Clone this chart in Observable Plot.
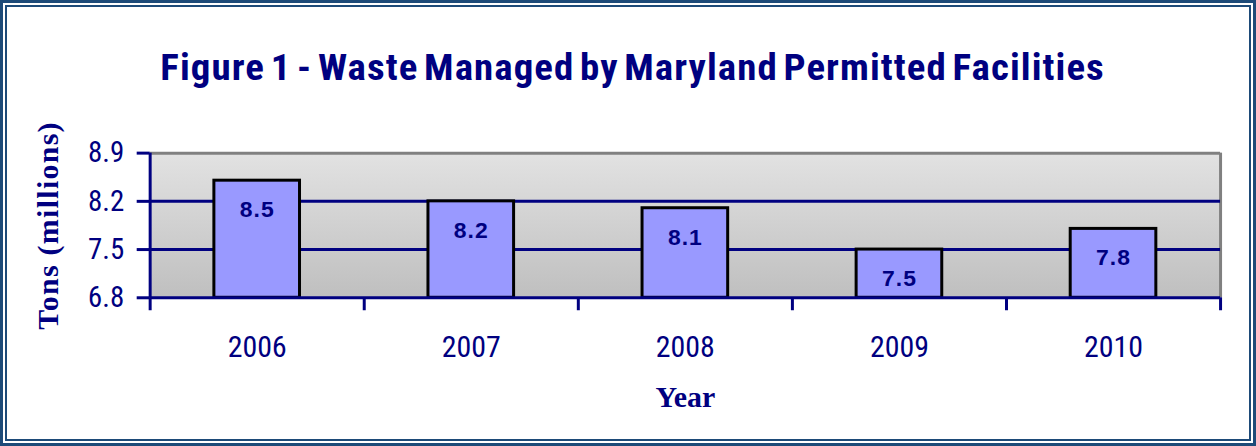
<!DOCTYPE html>
<html>
<head>
<meta charset="utf-8">
<script src="https://cdn.jsdelivr.net/npm/d3@7"></script>
<script src="https://cdn.jsdelivr.net/npm/@observablehq/plot@0.6"></script>
<style>
  html, body { margin: 0; padding: 0; background: #fff; }
  #frame {
    position: relative; width: 1256px; height: 446px; box-sizing: border-box;
    border: 3px solid #1d4a78; background: #fff;
  }
  #inner {
    position: absolute; left: 2px; top: 2px; right: 2px; bottom: 2px;
    border: 2px solid #1d4a78;
  }
  #title {
    position: absolute; left: 5px; top: 47px; width: 1250px; text-align: center;
    font-family: "Roboto Condensed", "Liberation Sans Narrow", sans-serif;
    font-weight: bold; font-size: 36px; color: #000080; letter-spacing: 1px;
    word-spacing: -4px; line-height: 1; transform: scaleX(1.08); transform-origin: 630px 0;
    white-space: nowrap;
  }
  #chart { position: absolute; left: -3px; top: -3px; }
</style>
</head>
<body>
<div id="frame">
  <div id="inner"></div>
  <div id="chart"></div>
  <div id="title">Figure 1 - Waste Managed by Maryland Permitted Facilities</div>
</div>
<script>
const years = [2006, 2007, 2008, 2009, 2010];
const tons = [8.5, 8.2, 8.1, 7.5, 7.8];
const yTicks = [6.8, 7.5, 8.2, 8.9];
const yLabel = "Tons (millions)";
const xLabel = "Year";

const data = years.map((y, i) => ({year: y, value: tons[i]}));
const boundaries = [years[0] - 0.5, ...years.map(y => y + 0.5)];
const yMin = yTicks[0], yMax = yTicks[yTicks.length - 1];
const navy = "#000080";
const narrow = "Roboto Condensed, Liberation Sans Narrow, sans-serif";
const serif = "Liberation Serif, Times New Roman, serif";

const plot = Plot.plot({
  width: 1256,
  height: 446,
  marginLeft: 150,
  marginRight: 33,
  marginTop: 153,
  marginBottom: 148,
  style: {background: "transparent", overflow: "visible", fontFamily: narrow},
  x: {type: "linear", domain: [boundaries[0], boundaries[boundaries.length - 1]]},
  y: {domain: [yMin, yMax]},
  marks: [
    Plot.frame({fill: "url(#bgGrad)", stroke: "none"}),
    Plot.ruleY([yMax], {stroke: "#808080", strokeWidth: 3}),
    Plot.ruleX([boundaries[boundaries.length - 1]], {stroke: "#808080", strokeWidth: 3}),
    Plot.ruleY(yTicks.slice(1, -1), {stroke: navy, strokeWidth: 3}),
    Plot.rectY(data, {x1: d => d.year - 0.2, x2: d => d.year + 0.2, y1: yMin, y2: "value",
      fill: "#9999ff", stroke: "#000", strokeWidth: 3}),
    Plot.text(data, {x: "year", y: "value", text: d => d.value.toFixed(1), dy: 29,
      fill: navy, fontWeight: "bold", fontSize: 23, fontFamily: "Liberation Sans, Arial, sans-serif",
      className: "barlab"}),
    Plot.ruleX([boundaries[0]], {stroke: navy, strokeWidth: 3}),
    Plot.ruleY([yMin], {stroke: navy, strokeWidth: 3}),
    Plot.axisY({ticks: yTicks, tickSize: 13, tickPadding: 13, tickFormat: d3.format(".1f"),
      stroke: navy, strokeWidth: 3, fill: navy, fontSize: 29, fontFamily: narrow, label: null}),
    Plot.axisX({ticks: boundaries, tickSize: 13, tickFormat: () => "", stroke: navy, strokeWidth: 3, label: null}),
    Plot.axisX({ticks: years, tickSize: 0, tickPadding: 38, tickFormat: d => String(d),
      fill: navy, fontSize: 30, fontFamily: narrow, label: null}),
    Plot.text([yLabel], {frameAnchor: "left", dx: -102, rotate: -90, textAnchor: "middle", text: d => d,
      fill: navy, fontWeight: "bold", fontSize: 30, fontFamily: serif, className: "ylab"}),
    Plot.text([xLabel], {frameAnchor: "bottom", dy: 109, text: d => d,
      fill: navy, fontWeight: "bold", fontSize: 30, fontFamily: serif})
  ]
});

const svg = d3.select(plot);
const defs = svg.insert("defs", ":first-child");
const g = defs.append("linearGradient").attr("id", "bgGrad").attr("x1", 0).attr("y1", 0).attr("x2", 0).attr("y2", 1);
g.append("stop").attr("offset", "0%").attr("stop-color", "#e2e2e2");
g.append("stop").attr("offset", "100%").attr("stop-color", "#bfbfbf");
svg.selectAll(".ylab text").style("letter-spacing", "1.3px");
svg.selectAll(".barlab text").style("letter-spacing", "1px");
document.getElementById("chart").appendChild(plot);
</script>
</body>
</html>
